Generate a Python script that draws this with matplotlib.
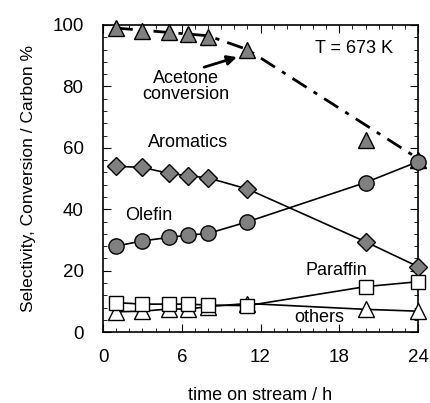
import matplotlib
matplotlib.use('Agg')
import matplotlib.pyplot as plt
from matplotlib.ticker import MultipleLocator

plt.rcParams['font.family'] = ['Liberation Sans', 'DejaVu Sans']

# Datos
tiempo = [1, 3, 5, 6.5, 8, 11, 20, 24]
acetona = [99, 98, 97.7, 97, 96, 92, 62.5, 56]
aromaticos = [54, 53.6, 51.7, 50.9, 50.2, 46.6, 29.4, 21.3]
olefinas = [28, 29.7, 30.8, 31.6, 32.1, 35.9, 48.7, 55.5]
parafinas = [9.6, 9.1, 9.1, 9.1, 8.8, 8.6, 14.8, 16.4]
otros = [6.6, 6.8, 7.5, 7.5, 8.3, 9.3, 7.4, 6.8]

# Línea de tendencia de la conversión
tendencia_x = [1, 8, 11, 24]
tendencia_y = [99, 96.5, 92, 56.5]

gris = '#808080'

fig = plt.figure(figsize=(4.31, 4.03), dpi=100)
ax = fig.add_axes([0.239, 0.176, 0.731, 0.762])

ax.plot(tendencia_x, tendencia_y, color='black', lw=2, dashes=(6, 3, 1.5, 3), zorder=2)
ax.plot(tiempo, acetona, ls='none', marker='^', ms=12, mfc=gris, mec='black', mew=1, zorder=3, clip_on=False)
ax.plot(tiempo, aromaticos, color='black', lw=1.2, marker='D', ms=9.5, mfc=gris, mec='black', mew=1, zorder=3, clip_on=False)
ax.plot(tiempo, otros, color='black', lw=1.2, marker='^', ms=11, mfc='white', mec='black', mew=1, zorder=3, clip_on=False)
ax.plot(tiempo, parafinas, color='black', lw=1.2, marker='s', ms=10, mfc='white', mec='black', mew=1, zorder=4, clip_on=False)
ax.plot(tiempo, olefinas, color='black', lw=1.2, marker='o', ms=11, mfc=gris, mec='black', mew=1, zorder=5, clip_on=False)

ax.set_xlim(0, 24)
ax.set_ylim(0, 100)
ax.xaxis.set_major_locator(MultipleLocator(6))
ax.xaxis.set_minor_locator(MultipleLocator(1))
ax.yaxis.set_major_locator(MultipleLocator(20))
ax.yaxis.set_minor_locator(MultipleLocator(4))
ax.tick_params(which='both', direction='in', top=True, right=True, labelsize=13.5)
ax.tick_params(axis='x', pad=12)
ax.tick_params(axis='y', pad=14)
ax.tick_params(which='major', length=6)
ax.tick_params(which='minor', length=3)
for s in ax.spines.values():
    s.set_linewidth(1.2)

ax.set_xlabel('time on stream / h', fontsize=13, labelpad=15)
ax.set_ylabel('Selectivity, Conversion / Carbon %', fontsize=12.5, labelpad=12)

ax.text(19.1, 92.5, 'T = 673 K', fontsize=13, ha='center', va='center')
ax.text(6.3, 80, 'Acetone\nconversion', fontsize=13, ha='center', va='center', linespacing=0.95)
ax.annotate('', xy=(10.4, 89.8), xytext=(7.5, 86),
            arrowprops=dict(arrowstyle='-|>', color='black', lw=2, mutation_scale=14))
ax.text(6.5, 61.6, 'Aromatics', fontsize=13, ha='center', va='center')
ax.text(3.5, 38, 'Olefin', fontsize=13, ha='center', va='center')
ax.text(17.8, 19.9, 'Paraffin', fontsize=13, ha='center', va='center')
ax.text(16.5, 4.6, 'others', fontsize=13, ha='center', va='center')

fig.savefig('out.png', dpi=100)
